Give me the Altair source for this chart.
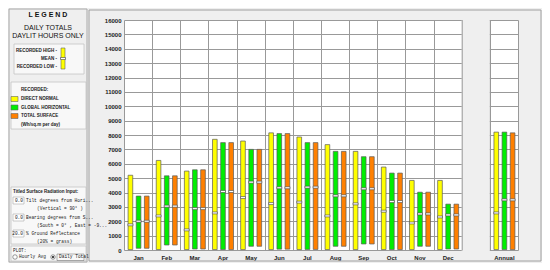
import altair as alt
import pandas as pd

# ---------------- data ----------------
labels = ["Jan", "Feb", "Mar", "Apr", "May", "Jun", "Jul", "Aug", "Sep", "Oct", "Nov", "Dec", "Annual"]
x_domain = ["Jan", "Feb", "Mar", "Apr", "May", "Jun", "Jul", "Aug", "Sep", "Oct", "Nov", "Dec", " ", "Annual"]
series = ["DIRECT NORMAL", "GLOBAL HORIZONTAL", "TOTAL SURFACE"]
colors = ["#ffff00", "#00ee00", "#ff8000"]

direct_high = [5200, 6230, 5490, 7700, 7580, 8150, 7860, 7330, 6860, 5770, 4840, 4840, 8200]
direct_mean = [1750, 2370, 1400, 2580, 3650, 3230, 3330, 2370, 3210, 2700, 1880, 2300, 2580]
direct_low = [30, 30, 30, 30, 30, 30, 30, 30, 30, 30, 30, 30, 30]

global_high = [3750, 5160, 5580, 7470, 7000, 8100, 7470, 6860, 6490, 5350, 4020, 3190, 8200]
global_mean = [2000, 3050, 2880, 4070, 4720, 4330, 4370, 3770, 4260, 3370, 2510, 2440, 3490]
global_low = [120, 350, 70, 30, 260, 60, 40, 260, 420, 30, 260, 70, 30]

total_high = [3750, 5160, 5580, 7470, 7000, 8100, 7470, 6860, 6490, 5350, 4020, 3190, 8150]
total_mean = [2000, 3050, 2880, 4070, 4720, 4330, 4370, 3770, 4260, 3370, 2510, 2440, 3490]
total_low = [120, 350, 70, 30, 260, 60, 40, 260, 420, 30, 260, 70, 30]

y_ticks = list(range(0, 16001, 1000))

rows = []
for i, m in enumerate(labels):
    for s, lo, me, hi in zip(series,
                             [direct_low[i], global_low[i], total_low[i]],
                             [direct_mean[i], global_mean[i], total_mean[i]],
                             [direct_high[i], global_high[i], total_high[i]]):
        rows.append({"cat": m, "series": s, "low": lo, "mean": me, "high": hi})
df = pd.DataFrame(rows)

# ---------------- style ----------------
FONT = "Liberation Sans"
MONO = "Liberation Mono"
BG = "#efefef"
GRID = "#999999"
OX, OY = 123, 19  # page position of the plot origin (for decoration placement)

one = pd.DataFrame({"a": [0]})


def txt(px, py, s, size=5, weight="bold", align="left", font=FONT, color="#1a1a1a"):
    return alt.Chart(one).mark_text(
        fontSize=size, fontWeight=weight, align=align, baseline="middle", font=font, color=color
    ).encode(x=alt.value(px - OX), y=alt.value(py - OY), text=alt.value(s))


def box(x0, y0, x1, y1, fill=None, stroke="#bdbdbd", sw=0.8):
    kw = dict(stroke=stroke, strokeWidth=sw)
    if fill is None:
        kw["fillOpacity"] = 0
        kw["fill"] = "white"
    else:
        kw["fill"] = fill
    return alt.Chart(one).mark_rect(**kw).encode(
        x=alt.value(x0 - OX), x2=alt.value(x1 - OX), y=alt.value(y0 - OY), y2=alt.value(y1 - OY)
    )


def dot(px, py, size, fill, stroke="#555", sw=0.6):
    return alt.Chart(one).mark_point(shape="circle", filled=True, fill=fill, stroke=stroke,
                                     strokeWidth=sw, size=size, opacity=1).encode(
        x=alt.value(px - OX), y=alt.value(py - OY))


# ---------------- main chart ----------------
xscale = alt.Scale(domain=x_domain, paddingInner=0, paddingOuter=0)
oscale = alt.Scale(domain=series, paddingInner=0.43, paddingOuter=0.44, align=0.57)
yscale = alt.Scale(domain=[0, 16000], nice=False)

x_axis = alt.Axis(title=None, tickBand="extent", grid=True, gridColor=GRID, gridOpacity=1,
                  ticks=False, domain=False, labelFont=FONT, labelFontSize=6,
                  labelFontWeight="bold", labelColor="#222", labelPadding=4, labelAngle=0)
y_axis = alt.Axis(title=None, values=y_ticks, grid=True, gridColor=GRID, gridOpacity=1,
                  ticks=False, domain=False, labelFont=FONT, labelFontSize=6, labelOverlap=False,
                  labelFontWeight="bold", labelColor="#222", labelPadding=3, format="d")

bars = alt.Chart(df).mark_bar(stroke="#5a5a5a", strokeWidth=0.7, opacity=1).encode(
    x=alt.X("cat:N", scale=xscale, sort=x_domain, axis=x_axis),
    xOffset=alt.XOffset("series:N", scale=oscale, sort=series),
    y=alt.Y("low:Q", scale=yscale, axis=y_axis),
    y2="high:Q",
    color=alt.Color("series:N", scale=alt.Scale(domain=series, range=colors), legend=None),
)

means = alt.Chart(df).mark_tick(color="white", stroke="#444", strokeWidth=0.6, thickness=2,
                                size=5, opacity=1).encode(
    x=alt.X("cat:N", scale=xscale, sort=x_domain, axis=x_axis),
    xOffset=alt.XOffset("series:N", scale=oscale, sort=series),
    y=alt.Y("mean:Q", scale=yscale, axis=y_axis),
)

gapdf = pd.DataFrame({"cat": [" "]})
gap = alt.Chart(gapdf).mark_rect(color=BG).encode(
    x=alt.X("cat:N", scale=xscale, sort=x_domain, axis=x_axis), y=alt.value(-1), y2=alt.value(231))
edge0 = alt.Chart(gapdf).mark_rule(color=GRID, strokeWidth=1, xOffset=0.5).encode(
    x=alt.X("cat:N", scale=xscale, sort=x_domain, bandPosition=0, axis=x_axis),
    y=alt.value(0), y2=alt.value(230.5))
edge1 = alt.Chart(gapdf).mark_rule(color=GRID, strokeWidth=1, xOffset=0.5).encode(
    x=alt.X("cat:N", scale=xscale, sort=x_domain, bandPosition=1, axis=x_axis),
    y=alt.value(0), y2=alt.value(230.5))

# ---------------- decorations (legend panel + frame) ----------------
deco = [
    box(8, 8, 86, 261, fill=None, stroke="#a8a8a8", sw=1),
    box(88, 9, 540, 260, fill=None, stroke="#a0a0a0", sw=1),
    txt(47, 14, "L E G E N D", size=7, weight="bold", align="center", color="#111"),
    txt(47, 27, "DAILY TOTALS", size=7, weight="normal", align="center", color="#111"),
    txt(47, 35, "DAYLIT HOURS ONLY", size=7, weight="normal", align="center", color="#111"),
    box(13, 43, 83, 73, fill="#f8f8f8", stroke="#c4c4c4"),
    txt(56, 49.5, "RECORDED HIGH -", size=4.5, align="right"),
    txt(56, 57.5, "MEAN -", size=4.5, align="right"),
    txt(56, 66, "RECORDED LOW -", size=4.5, align="right"),
    box(60, 47, 64, 68, fill="#ffff00", stroke="#666", sw=0.6),
    box(59.5, 56.5, 64.5, 58.5, fill="white", stroke="#444", sw=0.6),
    box(10, 81, 85, 128, fill="#f8f8f8", stroke="#c4c4c4"),
    txt(20, 89, "RECORDED:", size=4.5),
    box(10, 95.5, 17, 100.5, fill=colors[0], stroke="#666", sw=0.6),
    txt(20, 98, "DIRECT NORMAL", size=4.5),
    box(10, 104, 17, 109, fill=colors[1], stroke="#666", sw=0.6),
    txt(20, 106.5, "GLOBAL HORIZONTAL", size=4.5),
    box(10, 112.5, 17, 117.5, fill=colors[2], stroke="#666", sw=0.6),
    txt(20, 115, "TOTAL SURFACE", size=4.5),
    txt(20, 124, "(Wh/sq.m per day)", size=4.5),
    box(10, 186, 85, 243, fill="#f8f8f8", stroke="#c4c4c4"),
    txt(12, 191, "Titled Surface Radiation Input:", size=4.5),
    box(12, 196, 23, 203, fill="white", stroke="#aaa", sw=0.6),
    txt(22, 199.5, "0.0", size=4.5, weight="normal", align="right", font=MONO),
    txt(25, 199.5, "Tilt degrees from Hori...", size=4.5, weight="normal", font=MONO),
    txt(36, 208, "(Vertical = 90° )", size=4.5, weight="normal", font=MONO),
    box(12, 213, 23, 220, fill="white", stroke="#aaa", sw=0.6),
    txt(22, 216.5, "0.0", size=4.5, weight="normal", align="right", font=MONO),
    txt(25, 216.5, "Bearing degrees from S...", size=4.5, weight="normal", font=MONO),
    txt(36, 224.5, "(South = 0° , East = -9...", size=4.5, weight="normal", font=MONO),
    box(12, 229, 23, 236, fill="white", stroke="#aaa", sw=0.6),
    txt(22, 232.5, "20.0", size=4.5, weight="normal", align="right", font=MONO),
    txt(25, 232.5, "% Ground Reflectance", size=4.5, weight="normal", font=MONO),
    txt(36, 240.5, "(20% = grass)", size=4.5, weight="normal", font=MONO),
    box(10, 245, 85, 260, fill="#f8f8f8", stroke="#c4c4c4"),
    txt(12, 249.5, "PLOT:", size=4.5, weight="normal", font=MONO),
    dot(14, 256, 20, "white"),
    txt(18, 256, "Hourly Avg", size=4.5, weight="normal", font=MONO),
    dot(52, 256, 20, "white"),
    dot(52, 256, 5, "#222", stroke="#222", sw=0.1),
    box(56, 253, 83, 259.5, fill=None, stroke="#666", sw=0.5),
    txt(58, 256, "Daily Total", size=4.5, weight="normal", font=MONO),
]

chart = alt.layer(bars, means, gap, edge0, edge1, *deco).properties(
    width=394, height=230, padding=0, background=BG
).configure_view(stroke=None, fill="white")

chart.save("out.html", embed_options={"renderer": "svg", "actions": False})
